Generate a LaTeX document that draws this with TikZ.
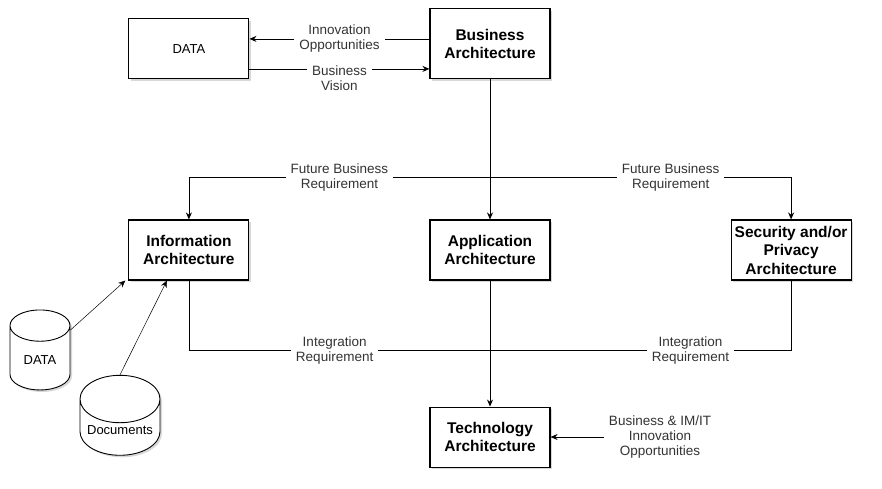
\documentclass[tikz,border=0pt]{standalone}
\usepackage{fontspec}
\setmainfont{Liberation Sans}
\usetikzlibrary{arrows.meta}
\usetikzlibrary{calc}
\usetikzlibrary{positioning}
\usetikzlibrary{shapes.geometric}
\usetikzlibrary{shadows}

\begin{document}
\begin{tikzpicture}[
		x=1pt,y=-1pt,
		>={Stealth[length=7pt,width=6pt]},
		arch/.style={draw,line width=1.1pt,fill=white,rectangle,minimum width=120pt,minimum height=60pt,inner sep=1pt,align=center,font=\bfseries\fontsize{15.5}{18.5}\selectfont,drop shadow={shadow xshift=2pt,shadow yshift=-2pt,fill=black!30,opacity=0.5}},
		src/.style={arch,font=\fontsize{13}{15}\selectfont},
		store/.style={draw,line width=0.9pt,fill=white,cylinder,shape border rotate=90,aspect=0.9,minimum width=60pt,minimum height=80pt,inner sep=1pt,font=\fontsize{13}{15}\selectfont,drop shadow={shadow xshift=2pt,shadow yshift=-2pt,fill=black!30,opacity=0.5}},
		lbl/.style={fill=white,inner xsep=5pt,inner ysep=1pt,align=center,text=black!80,font=\fontsize{13.5}{15}\selectfont},
		link/.style={->,line width=0.8pt}
	]
		\useasboundingbox (0,0) rectangle (882,488);

		\node [arch] (app) at (490,250) {Application\\Architecture};
		\node [arch,minimum height=70pt,above=140pt of app] (biz) {Business\\Architecture};
		\node [arch,left=180pt of app] (info) {Information\\Architecture};
		\node [arch,right=180pt of app] (sec) {Security and/or\\Privacy\\Architecture};
		\node [arch,below=126pt of app] (tech) {Technology\\Architecture};
		\node [src,left=180pt of biz,yshift=-5pt] (data) {DATA};

		\node [store] (dbdata) at (40,360) {DATA};
		\node [store,minimum width=80pt,aspect=0.7] (docs) at (120,430) {Documents};

		\node [lbl] (bimit) at (660,437) {Business \& IM/IT\\Innovation\\Opportunities};

		\draw [link] ($(biz.west)+(0,5pt)$)
			-- node [lbl] {Innovation\\Opportunities} ($(data.east)+(0,10pt)$);
		\draw [link] ($(data.east)+(0,-20pt)$)
			-- node [lbl,yshift=-9pt] {Business\\Vision} ($(biz.west)+(0,-25pt)$);

		\coordinate (fbr) at ($(biz.south)!0.7!(app.north)$);
		\draw [link] (biz) -- (app);
		\draw [link] (biz.south) -- (fbr)
			-| node [lbl,pos=0.25] {Future Business\\Requirement} (info.north);
		\draw [link] (biz.south) -- (fbr)
			-| node [lbl,pos=0.3] {Future Business\\Requirement} (sec.north);

		\coordinate (ir) at ($(info.south)+(0,-70pt)$);
		\draw [line width=0.8pt] (info.south) -- (ir)
			-- node [lbl,pos=0.242] {Integration\\Requirement}
			node [lbl,pos=0.833] {Integration\\Requirement} (ir -| sec.south)
			-- (sec.south);
		\draw [link] (app) -- (tech);
		\draw [link] (bimit.west) -- (tech.east |- bimit.west);

		\draw [->,line width=0.5pt] ($(dbdata.east)+(0,30pt)$) -- ($(info.south west)+(-3pt,0)$);
		\draw [->,line width=0.5pt] (docs.north) -- ($(info.south)+(-22pt,0)$);
	\end{tikzpicture}
\end{document}
